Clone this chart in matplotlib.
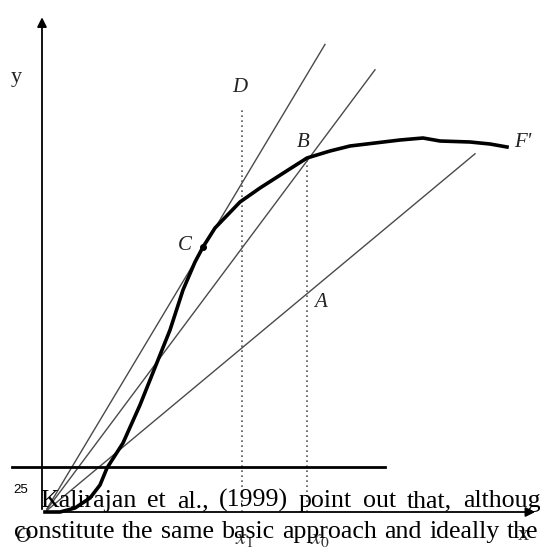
import numpy as np
import matplotlib.pyplot as plt

plt.rcParams['mathtext.fontset'] = 'stix'

# output curve F' (x, y)
curve_x = [0.0, 0.3, 0.6, 0.9, 1.1, 1.24, 1.56, 1.9, 2.26, 2.5, 2.76, 3.0, 3.16,
           3.4, 3.9, 4.3, 4.8, 5.24, 5.7, 6.1, 7.1, 7.56, 7.9, 8.5, 8.9, 9.24]
curve_y = [0.0, 0.0, 0.08, 0.28, 0.54, 0.88, 1.38, 2.14, 3.04, 3.64, 4.44, 5.0, 5.3,
           5.68, 6.2, 6.48, 6.8, 7.08, 7.22, 7.32, 7.44, 7.48, 7.42, 7.4, 7.36, 7.3]

# rays from the origin: slope and end x
ray_slopes = [1.67, 1.34, 0.833]
ray_ends = [5.6, 6.6, 8.6]

# dotted verticals at x1 and x0 (x, top y)
x1, x1_top = 3.94, 8.08
x0, x0_top = 5.24, 7.06

point_C = (3.16, 5.3)

# footnote lines: words, x of first word, x where the last word starts
foot_1 = ["Kalirajan", "et", "al.,", "(1999)", "point", "out", "that,", "although"]
foot_2 = ["constitute", "the", "same", "basic", "approach", "and", "ideally", "the"]
foot_1_span = (-0.1, 8.36)
foot_2_span = (-0.62, 9.24)

fig = plt.figure(figsize=(5.4, 5.47), dpi=100)
ax = fig.add_axes([0, 0, 1, 1])
ax.set_xlim(-0.9, 9.9)
ax.set_ylim(-0.7, 10.24)
ax.axis('off')

serif = 'Liberation Serif'

# axes with arrows
ax.annotate('', xy=(-0.06, 9.95), xytext=(-0.06, 0),
            arrowprops=dict(arrowstyle='-|>', color='black', lw=1.3, mutation_scale=14))
ax.annotate('', xy=(9.86, 0), xytext=(-0.06, 0),
            arrowprops=dict(arrowstyle='-|>', color='black', lw=1.3, mutation_scale=14))

for s, e in zip(ray_slopes, ray_ends):
    xs = np.array([0.04, e])
    ax.plot(xs, s * xs, color='#4a4a4a', lw=1.0)

ax.plot([x1, x1], [0, x1_top], color='#555555', lw=1.2, ls=(0, (1, 2)))
ax.plot([x0, x0], [0, x0_top], color='#555555', lw=1.2, ls=(0, (1, 2)))

ax.plot(curve_x, curve_y, color='black', lw=2.6, solid_joinstyle='round')
ax.plot(*point_C, 'o', color='black', ms=4)

lab = dict(family=serif, fontsize=15, style='italic', color='#222222')
ax.text(3.74, 8.4, 'D', **lab)
ax.text(5.03, 7.3, 'B', **lab)
ax.text(2.66, 5.25, 'C', **lab)
ax.text(5.38, 4.1, 'A', **lab)
ax.text(9.38, 7.3, "F'", **lab)
ax.text(-0.69, 8.6, 'y', family=serif, fontsize=16, color='#222222')
ax.text(-0.59, -0.6, 'O', **lab)
ax.text(3.8, -0.64, '$x_1$', fontsize=16, color='#333333')
ax.text(5.3, -0.64, '$x_0$', fontsize=16, color='#333333')
ax.text(9.46, -0.55, 'x', family=serif, fontsize=16, color='#333333')

# footnote that overlaps the figure
ax.plot([-0.66, 6.8], [0.9, 0.9], color='black', lw=2)
ax.text(-0.64, 0.38, '25', family='Liberation Sans', fontsize=9.5, color='black')


def justify(words, span, y):
    # place words so the first starts at span[0] and the last at span[1]
    renderer = fig.canvas.get_renderer()
    texts = [ax.text(0, y, w, family=serif, fontsize=18.6, color='black') for w in words]
    inv = ax.transData.inverted()
    widths = []
    for t in texts:
        bb = t.get_window_extent(renderer)
        widths.append(inv.transform((bb.x1, 0))[0] - inv.transform((bb.x0, 0))[0])
    gap = (span[1] - span[0] - sum(widths[:-1])) / (len(words) - 1)
    x = span[0]
    for t, w in zip(texts, widths):
        t.set_x(x)
        x += w + gap


justify(foot_1, foot_1_span, 0.1)
justify(foot_2, foot_2_span, -0.52)

fig.savefig('out.png', dpi=100)
